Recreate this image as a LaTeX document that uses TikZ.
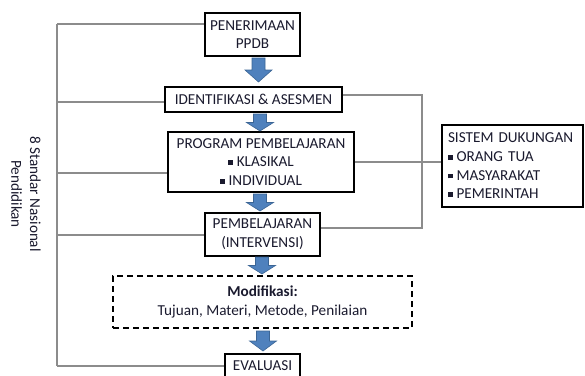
\documentclass[tikz,border=0pt]{standalone}
\usepackage{fontspec}
\setmainfont{Carlito}
\newcommand\sqbul{\rule[2pt]{4.5pt}{4.5pt}\hspace{4pt}}
\newcommand\barrow[3]{%
  \pgfmathsetmacro\ymid{(#2+#3)/2}%
  \draw[blockarrow] ({#1-6.5},#2) -- ({#1+6.5},#2) -- ({#1+6.5},\ymid) -- ({#1+13.5},\ymid) -- (#1,#3) -- ({#1-13.5},\ymid) -- ({#1-6.5},\ymid) -- cycle;}
\definecolor{arrfill}{HTML}{4F81BD}
\definecolor{arrline}{HTML}{3B6595}
\definecolor{conn}{HTML}{8C8C8C}
\definecolor{txt}{HTML}{1A1A2E}
\tikzset{
  box/.style={draw=black, line width=2pt, align=center, inner sep=0pt, fill=white},
  dbox/.style={draw=black, line width=1.6pt, dash pattern=on 6pt off 4pt, align=center, inner sep=0pt},
  link/.style={draw=conn, line width=1.2pt},
  blockarrow/.style={fill=arrfill, draw=arrline, line width=0.6pt},
}
\begin{document}
\begin{tikzpicture}[x=1pt,y=-1pt,font=\fontsize{15.2}{18.7}\selectfont, text=txt]
\useasboundingbox (0,0) rectangle (585,375);
\clip (0,0) rectangle (585,375);
% left spine and connectors (drawn first)
\coordinate (ltop) at (57,24);
\coordinate (lid) at (57,102);
\coordinate (lprog) at (57,173);
\coordinate (lpemb) at (57,235);
\coordinate (lev) at (57,366);
\coordinate (rtop) at (422,95);
\coordinate (rbot) at (422,228);
\draw[link] (ltop) -- (lev);
% nodes
\node[box, minimum width=95pt, minimum height=43pt] (pen) at (252.5,34.5) {PENERIMAAN\\PPDB};
\node[box, minimum width=177pt, minimum height=25pt] (id) at (253.5,99.5) {IDENTIFIKASI \& ASESMEN};
\node[box, minimum width=186pt, minimum height=60pt] (prog) at (261,162) {PROGRAM PEMBELAJARAN\\\sqbul KLASIKAL\\\sqbul INDIVIDUAL};
\node[box, minimum width=115pt, minimum height=43pt] (pemb) at (262.5,234.5) {PEMBELAJARAN\\(INTERVENSI)};
\node[dbox, minimum width=299pt, minimum height=52pt] (mod) at (262.5,302) {\textbf{Modifikasi:}\\Tujuan, Materi, Metode, Penilaian};
\node[box, minimum width=75pt, minimum height=24pt] (ev) at (262.5,366) {EVALUASI};
\node[box, text width=129pt, inner xsep=6pt, minimum height=82pt, align=left] (sis) at (512.5,166) {SISTEM DUKUNGAN\\\sqbul ORANG TUA\\\sqbul MASYARAKAT\\\sqbul PEMERINTAH};
\node[rotate=-90, align=center, inner sep=0pt] (std) at (26,194) {8 Standar Nasional\\Pendidikan};
% connectors
\draw[link] (ltop) -- (pen.west |- ltop);
\draw[link] (lid) -- (id.west |- lid);
\draw[link] (lprog) -- (prog.west |- lprog);
\draw[link] (lpemb) -- (pemb.west |- lpemb);
\draw[link] (lev) -- (ev.west |- lev);
\draw[link] (id.east |- rtop) -- (rtop) -- (rbot) -- (pemb.east |- rbot);
\draw[link] (prog.east |- 0,162) -- (sis.west |- 0,162);
% block arrows
\barrow{258.5}{58}{82}
\barrow{260}{114}{131}
\barrow{260}{194}{211}
\barrow{262}{257}{274}
\barrow{263}{331}{351}
\end{tikzpicture}
\end{document}
